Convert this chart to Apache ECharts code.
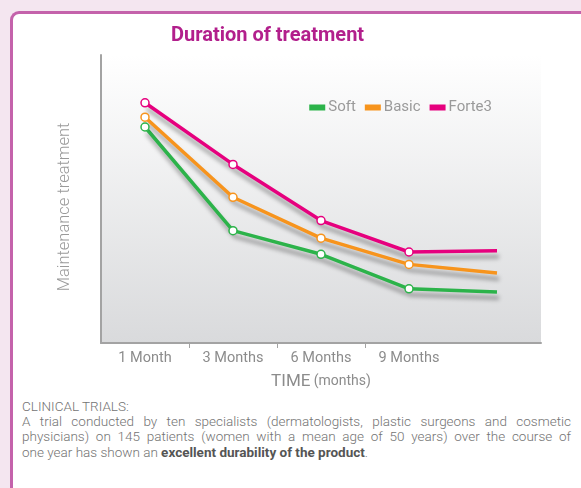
<!DOCTYPE html>
<html>
<head>
<meta charset="utf-8">
<script src="https://cdn.jsdelivr.net/npm/echarts@6/dist/echarts.min.js"></script>
<style>
  html, body { margin: 0; padding: 0; }
  body { width: 581px; height: 488px; background: #f4e6f0; position: relative; overflow: hidden; font-family: Roboto, "Liberation Sans", sans-serif; }
  #card {
    position: absolute; left: 10px; top: 11px; width: 600px; height: 500px;
    background: #fff; border: 3px solid #c462ab; border-right: none; border-bottom: none;
    border-top-left-radius: 9px;
  }
  #chart { position: absolute; left: 0; top: 0; width: 581px; height: 395px; }
  #note {
    position: absolute; left: 22px; top: 399px; width: 549px;
    font-size: 13.5px; line-height: 15.2px; color: #737373; font-weight: 300;
  }
  #note .j { text-align: justify; text-align-last: justify; white-space: nowrap; }
  #note b { font-weight: 700; color: #555; }
</style>
</head>
<body>
<div id="card"></div>
<div id="chart"></div>
<div id="note">
  <div>CLINICAL TRIALS:</div>
  <div class="j">A trial conducted by ten specialists (dermatologists, plastic surgeons and cosmetic</div>
  <div class="j">physicians) on 145 patients (women with a mean age of 50 years) over the course of</div>
  <div>one year has shown an <b>excellent durability of the product</b>.</div>
</div>
<script>
const months = ["1 Month", "3 Months", "6 Months", "9 Months", ""];
const soft = [75.0, 39.0, 30.8, 18.8, 17.7];
const basic = [78.4, 50.6, 36.4, 27.3, 24.3];
const forte3 = [83.4, 62.0, 42.5, 31.6, 32.0];
// ticks sit on the boundaries between the labelled months
const tickBoundaries = [1, 2, 3];

const COLORS = { Soft: "#2cb34a", Basic: "#f7941d", Forte3: "#e6007e" };

function makeSeries(name, vals) {
  const c = COLORS[name];
  return {
    name: name,
    type: "line",
    symbol: "circle",
    symbolSize: 8,
    showAllSymbol: true,
    itemStyle: { color: "#fff", borderColor: c, borderWidth: 1.5 },
    lineStyle: {
      color: c, width: 3.5,
      shadowColor: "rgba(0,0,0,0.35)", shadowBlur: 4, shadowOffsetX: 2, shadowOffsetY: 6
    },
    emphasis: { disabled: true },
    // last point has no marker
    data: vals.map((v, i) => i === vals.length - 1 ? { value: v, symbol: "none" } : v)
  };
}

const chart = echarts.init(document.getElementById("chart"));
chart.setOption({
  animation: false,
  title: {
    text: "Duration of treatment",
    left: 166, top: 21,
    textStyle: { fontFamily: "Roboto", fontWeight: "bold", fontSize: 20, color: "#b21f8c" }
  },
  legend: {
    right: 84, top: 95,
    icon: "rect", itemWidth: 14, itemHeight: 4, itemGap: 9,
    textStyle: { color: "#9a9a9a", fontSize: 15, fontFamily: "Roboto", padding: [0, 0, 0, -1] },
    data: [
      { name: "Soft", itemStyle: { color: COLORS.Soft } },
      { name: "Basic", itemStyle: { color: COLORS.Basic } },
      { name: "Forte3", itemStyle: { color: COLORS.Forte3 } }
    ]
  },
  grid: {
    left: 101, right: 40, top: 55, bottom: 395 - 343,
    show: true, borderWidth: 0,
    backgroundColor: new echarts.graphic.LinearGradient(0, 0, 0, 1, [
      { offset: 0, color: "#ffffff" },
      { offset: 1, color: "#d9dadc" }
    ])
  },
  xAxis: [{
    type: "category",
    data: months,
    boundaryGap: true,
    axisLine: { lineStyle: { color: "#a3a3a3", width: 2 } },
    axisTick: { show: false },
    axisLabel: { color: "#8c8c8c", fontSize: 14.5, fontFamily: "Roboto", margin: 8 },
    name: "{a|TIME} {b|(months)}",
    nameLocation: "middle",
    nameGap: 30,
    nameTextStyle: {
      rich: {
        a: { fontSize: 17, color: "#8c8c8c", fontFamily: "Roboto" },
        b: { fontSize: 14, color: "#8c8c8c", fontFamily: "Roboto" }
      }
    }
  }, {
    // helper axis only for the in-between ticks
    type: "value",
    position: "bottom",
    min: 0, max: months.length,
    axisLine: { show: false },
    axisLabel: { show: false },
    splitLine: { show: false },
    axisTick: {
      show: true, length: 5, lineStyle: { color: "#a3a3a3", width: 1 },
      customValues: tickBoundaries
    }
  }],
  yAxis: {
    type: "value",
    min: 0, max: 100,
    axisLine: { show: true, lineStyle: { color: "#a3a3a3", width: 2 } },
    axisTick: { show: false },
    axisLabel: { show: false },
    splitLine: { show: false },
    name: "Maintenance treatment",
    nameLocation: "middle",
    nameGap: 28,
    nameTextStyle: { color: "#9a9a9a", fontSize: 16.5, fontFamily: "Roboto", fontWeight: 300, padding: [0, 16, 0, 0] }
  },
  series: [
    makeSeries("Soft", soft),
    makeSeries("Basic", basic),
    makeSeries("Forte3", forte3)
  ]
});
</script>
</body>
</html>
